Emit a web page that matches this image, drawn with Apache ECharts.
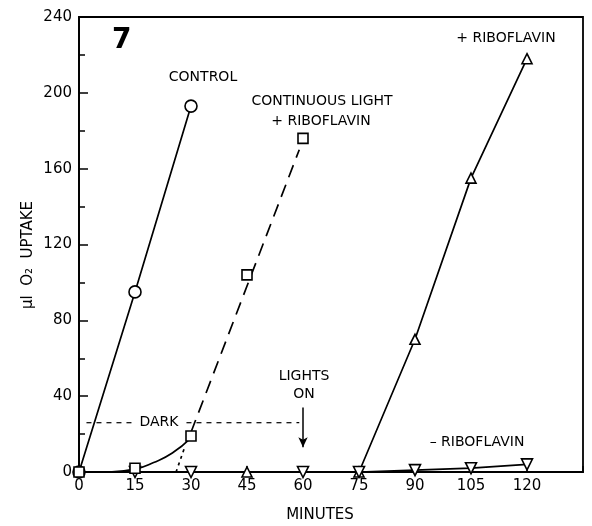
<!DOCTYPE html>
<html><head><meta charset="utf-8">
<script src="https://cdn.jsdelivr.net/npm/echarts@6/dist/echarts.min.js"></script>
<style>html,body{margin:0;padding:0;background:#fff}#c{width:592px;height:526px}</style>
</head><body><div id="c"></div>
<script>
// ---- data ----
const xTickLabels = ['0','15','30','45','60','75','90','105','120'];
const yTickLabels = ['0','40','80','120','160','200','240'];

const controlX = [0, 15, 30];
const controlY = [0, 95, 193];

const lightX = [0, 15, 30, 45, 60];
const lightY = [0, 2, 19, 104, 176];
const lightCurveX = [8, 15, 20, 25, 30];
const lightCurveY = [0, 1.5, 5, 10, 18];
const lightDotX = [26, 28.3];
const lightDotY = [0, 13];
const lightDashX = [30, 59];
const lightDashY = [21, 170];

const plusDarkX = [45];
const plusDarkY = [0];
const plusX = [75, 90, 105, 120];
const plusY = [0, 70, 155, 218];

const minusDarkX = [15, 30, 60];
const minusDarkY = [0, 0, 0];
const minusX = [75, 90, 105, 120];
const minusY = [0, 1, 2, 4];

const darkX = [2, 59];
const darkY = [26, 26];
const arrowX = [60, 60];
const arrowY = [34, 13];

const zip = (xs, ys) => xs.map((x, i) => [x, ys[i]]);
const F = '"DejaVu Sans"';
const sym = {color: '#fff', borderColor: '#000', borderWidth: 1.6, opacity: 1};
const ln = {color: '#000', width: 1.7};

const chart = echarts.init(document.getElementById('c'), null, {renderer: 'canvas'});
chart.setOption({
  animation: false,
  backgroundColor: '#fff',
  grid: {show: true, left: 79, top: 17, width: 504, height: 455, borderColor: '#000', borderWidth: 1.8, backgroundColor: 'transparent'},
  xAxis: {
    type: 'value', min: 0, max: 135, interval: 15,
    axisLine: {lineStyle: {color: '#000', width: 1.8}},
    axisTick: {inside: true, length: 6, lineStyle: {color: '#000', width: 1.5}},
    axisLabel: {fontFamily: F, fontSize: 15, color: '#000', margin: 7,
      formatter: v => { const i = Math.round(v / 15); return i < xTickLabels.length ? xTickLabels[i] : ''; }},
    splitLine: {show: false}
  },
  yAxis: {
    type: 'value', min: 0, max: 240, interval: 40,
    axisLine: {lineStyle: {color: '#000', width: 1.8}},
    axisTick: {inside: true, length: 9, lineStyle: {color: '#000', width: 1.5}},
    minorTick: {show: true, splitNumber: 2, length: 6, lineStyle: {color: '#000', width: 1.5}},
    axisLabel: {fontFamily: F, fontSize: 15, color: '#000', margin: 7,
      formatter: v => yTickLabels[Math.round(v / 40)]},
    splitLine: {show: false}
  },
  series: [
    {type: 'line', data: zip(darkX, darkY), symbol: 'none', lineStyle: {color: '#000', width: 1.2, type: [5, 5]}, z: 1},
    {type: 'line', data: [{value: [arrowX[0], arrowY[0]], symbol: 'none'}, {value: [arrowX[1], arrowY[1]], symbol: 'arrow', symbolSize: [7, 10], symbolRotate: 180, itemStyle: {color: '#000'}}], lineStyle: {color: '#000', width: 1.5}, z: 2},
    {type: 'line', data: zip(lightCurveX, lightCurveY), smooth: 0.5, symbol: 'none', lineStyle: ln, z: 2},
    {type: 'line', data: zip(lightDotX, lightDotY), symbol: 'none', lineStyle: {color: '#000', width: 1.7, type: [3, 4]}, z: 2},
    {type: 'line', data: zip(lightDashX, lightDashY), symbol: 'none', lineStyle: {color: '#000', width: 1.7, type: [13, 8]}, z: 2},
    {type: 'line', data: zip(controlX, controlY), symbol: 'circle', symbolSize: 12, itemStyle: sym, lineStyle: ln, z: 3},
    {type: 'line', data: zip(plusX, plusY), symbol: 'triangle', symbolSize: 10, itemStyle: sym, lineStyle: ln, z: 3},
    {type: 'scatter', data: zip(plusDarkX, plusDarkY), symbol: 'triangle', symbolSize: 10, itemStyle: sym, z: 3},
    {type: 'line', data: zip(minusX, minusY), symbol: 'triangle', symbolRotate: 180, symbolSize: 11, itemStyle: sym, lineStyle: ln, z: 3},
    {type: 'scatter', data: zip(minusDarkX, minusDarkY), symbol: 'triangle', symbolRotate: 180, symbolSize: 11, itemStyle: sym, z: 3},
    {type: 'scatter', data: zip(lightX, lightY), symbol: 'rect', symbolSize: 10, itemStyle: sym, z: 4}
  ],
  graphic: [
    {type: 'text', left: 112, top: 27, style: {text: '7', font: 'bold 28px ' + F, fill: '#000'}},
    {type: 'text', x: 203, y: 77, style: {text: 'CONTROL', font: '14px ' + F, fill: '#000', align: 'center', verticalAlign: 'middle'}},
    {type: 'text', x: 322, y: 101, style: {text: 'CONTINUOUS LIGHT', font: '14px ' + F, fill: '#000', align: 'center', verticalAlign: 'middle'}},
    {type: 'text', x: 321, y: 121, style: {text: '+ RIBOFLAVIN', font: '14px ' + F, fill: '#000', align: 'center', verticalAlign: 'middle'}},
    {type: 'text', x: 506, y: 38, style: {text: '+ RIBOFLAVIN', font: '14px ' + F, fill: '#000', align: 'center', verticalAlign: 'middle'}},
    {type: 'text', x: 477, y: 442, style: {text: '\u2013 RIBOFLAVIN', font: '14px ' + F, fill: '#000', align: 'center', verticalAlign: 'middle'}},
    {type: 'text', x: 304, y: 376, style: {text: 'LIGHTS', font: '14px ' + F, fill: '#000', align: 'center', verticalAlign: 'middle'}},
    {type: 'text', x: 304, y: 394, style: {text: 'ON', font: '14px ' + F, fill: '#000', align: 'center', verticalAlign: 'middle'}},
    {type: 'text', x: 159, y: 422, z: 10, style: {text: ' DARK ', font: '14px ' + F, fill: '#000', align: 'center', verticalAlign: 'middle', backgroundColor: '#fff'}},
    {type: 'text', x: 320, y: 515, style: {text: 'MINUTES', font: '15px ' + F, fill: '#000', align: 'center', verticalAlign: 'middle'}},
    {type: 'text', x: 28, y: 255, rotation: Math.PI / 2, style: {text: '\u00b5l  O\u2082  UPTAKE', font: '15px ' + F, fill: '#000', align: 'center', verticalAlign: 'middle'}}
  ]
});
</script></body></html>
